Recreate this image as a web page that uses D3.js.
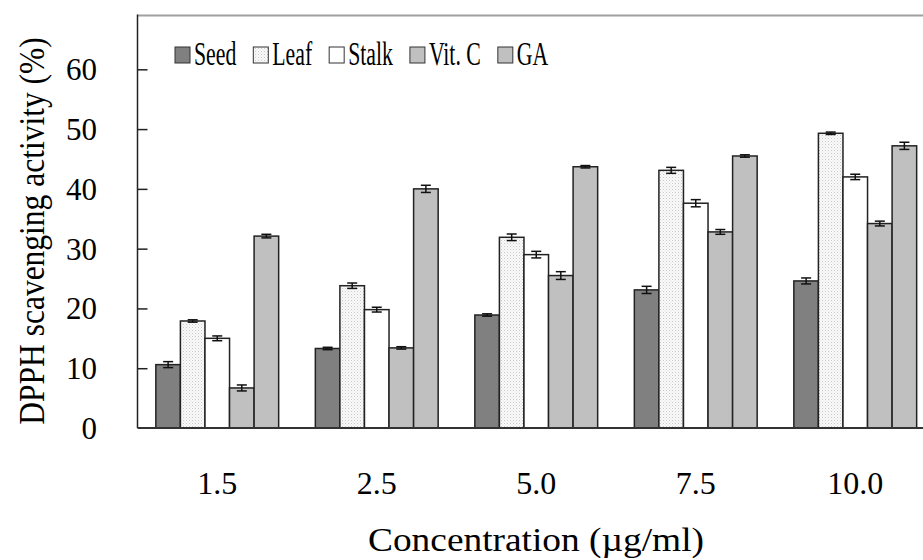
<!DOCTYPE html>
<html>
<head>
<meta charset="utf-8">
<script src="https://cdn.jsdelivr.net/npm/d3@7"></script>
<style>
  html, body { margin: 0; padding: 0; background: #fff; }
  svg { display: block; font-family: "Liberation Serif", "Times New Roman", serif; }
</style>
</head>
<body>
<svg id="chart" width="923" height="560"></svg>
<script>
// concentrations (µg/ml)
const concentrations = ["1.5", "2.5", "5.0", "7.5", "10.0"];
const seriesNames = ["Seed", "Leaf", "Stalk", "Vit. C", "GA"];

// DPPH scavenging activity (%) per series
const seedValues  = [10.6, 13.3, 18.9, 23.1, 24.6];
const leafValues  = [17.9, 23.8, 31.9, 43.1, 49.3];
const stalkValues = [15.0, 19.8, 29.0, 37.6, 42.0];
const vitcValues  = [6.7, 13.4, 25.5, 32.8, 34.2];
const gaValues    = [32.1, 40.0, 43.7, 45.5, 47.2];

// error bars (sd)
const seedErr  = [0.5, 0.2, 0.2, 0.6, 0.5];
const leafErr  = [0.2, 0.45, 0.55, 0.5, 0.2];
const stalkErr = [0.4, 0.4, 0.55, 0.6, 0.45];
const vitcErr  = [0.5, 0.2, 0.65, 0.4, 0.4];
const gaErr    = [0.3, 0.6, 0.2, 0.2, 0.6];

const yTicks = [0, 10, 20, 30, 40, 50, 60];

const values = [seedValues, leafValues, stalkValues, vitcValues, gaValues];
const errors = [seedErr, leafErr, stalkErr, vitcErr, gaErr];

const fills = {"Seed": "#808080", "Leaf": "url(#stipple)", "Stalk": "#ffffff", "Vit. C": "#c0c0c0", "GA": "#c0c0c0"};

const data = [];
concentrations.forEach((c, i) => {
    seriesNames.forEach((s, j) => {
        data.push({conc: c, series: s, value: values[j][i], err: errors[j][i]});
    });
});

const svg = d3.select("#chart");

// stippled fill for Leaf
const pat = svg.append("defs").append("pattern")
    .attr("id", "stipple")
    .attr("width", 3).attr("height", 3)
    .attr("patternUnits", "userSpaceOnUse");
pat.append("rect").attr("width", 3).attr("height", 3).attr("fill", "#fafafa");
pat.append("rect").attr("x", 0).attr("y", 0).attr("width", 1).attr("height", 1).attr("fill", "#c8c8c8");
pat.append("rect").attr("x", 1.5).attr("y", 1.5).attr("width", 1).attr("height", 1).attr("fill", "#dcdcdc");

const plotLeft = 137.5, plotTop = 15.5, plotBottom = 428;

const x0 = d3.scaleBand()
    .domain(concentrations)
    .range([plotLeft, plotLeft + 5 * 159.5])
    .paddingInner(0.23)
    .paddingOuter(0.115);

const x1 = d3.scaleBand()
    .domain(seriesNames)
    .range([0, x0.bandwidth()]);

const y = d3.scaleLinear()
    .domain([0, 69])
    .range([plotBottom, plotTop]);

// top frame line
svg.append("line")
    .attr("x1", plotLeft).attr("x2", 923)
    .attr("y1", plotTop).attr("y2", plotTop)
    .attr("stroke", "#a0a0a0").attr("stroke-width", 2);

// bars
svg.append("g").selectAll("rect")
    .data(data)
    .enter()
    .append("rect")
    .attr("x", d => x0(d.conc) + x1(d.series))
    .attr("y", d => y(d.value))
    .attr("width", x1.bandwidth())
    .attr("height", d => y(0) - y(d.value))
    .attr("fill", d => fills[d.series])
    .attr("stroke", "#222")
    .attr("stroke-width", 1.5);

// error bars
const eb = svg.append("g").attr("stroke", "#111").attr("stroke-width", 1.5);
data.forEach(d => {
    const cx = x0(d.conc) + x1(d.series) + x1.bandwidth() / 2;
    const y1 = y(d.value + d.err), y2 = y(d.value - d.err);
    eb.append("line").attr("x1", cx).attr("x2", cx).attr("y1", y1).attr("y2", y2);
    eb.append("line").attr("x1", cx - 5).attr("x2", cx + 5).attr("y1", y1).attr("y2", y1);
    eb.append("line").attr("x1", cx - 5).attr("x2", cx + 5).attr("y1", y2).attr("y2", y2);
});

// y axis: inward ticks, labels placed separately
const yAxis = svg.append("g")
    .attr("transform", `translate(${plotLeft},0)`)
    .call(d3.axisRight(y).tickValues(yTicks.filter(t => t > 0)).tickSize(10).tickFormat(""));
yAxis.select(".domain").remove();
yAxis.selectAll(".tick line").attr("stroke", "#222").attr("stroke-width", 1.5);

svg.append("line")
    .attr("x1", plotLeft).attr("x2", plotLeft)
    .attr("y1", plotTop - 1).attr("y2", plotBottom)
    .attr("stroke", "#222").attr("stroke-width", 1.5);

svg.append("g").selectAll("text")
    .data(yTicks)
    .enter()
    .append("text")
    .attr("x", 97)
    .attr("y", d => y(d) + 11)
    .attr("text-anchor", "end")
    .style("font-size", "31px")
    .text(d => d);

// x axis
svg.append("line")
    .attr("x1", plotLeft).attr("x2", 923)
    .attr("y1", plotBottom).attr("y2", plotBottom)
    .attr("stroke", "#333").attr("stroke-width", 2);

svg.append("g").selectAll("text")
    .data(concentrations)
    .enter()
    .append("text")
    .attr("x", d => x0(d) + x0.bandwidth() / 2)
    .attr("y", 494)
    .attr("text-anchor", "middle")
    .style("font-size", "32px")
    .text(d => d);

// axis titles
svg.append("text")
    .attr("x", 536)
    .attr("y", 551)
    .attr("text-anchor", "middle")
    .attr("textLength", 336)
    .attr("lengthAdjust", "spacingAndGlyphs")
    .style("font-size", "34px")
    .text("Concentration (\u00b5g/ml)");

svg.append("text")
    .attr("transform", "translate(44,231) rotate(-90) scale(0.9,1)")
    .attr("text-anchor", "middle")
    .style("font-size", "35px")
    .text("DPPH scavenging activity (%)");

// legend
const legend = svg.append("g");
let lx = 175;
seriesNames.forEach(s => {
    legend.append("rect")
        .attr("x", lx).attr("y", 47)
        .attr("width", 15).attr("height", 16)
        .attr("fill", fills[s])
        .attr("stroke", "#333").attr("stroke-width", 1);
    const t = legend.append("text")
        .attr("transform", `translate(${lx + 19},65) scale(0.66,1)`)
        .style("font-size", "33px")
        .text(s);
    const w = t.node().getComputedTextLength() * 0.66;
    lx += 19 + w + 17;
});
</script>
</body>
</html>
